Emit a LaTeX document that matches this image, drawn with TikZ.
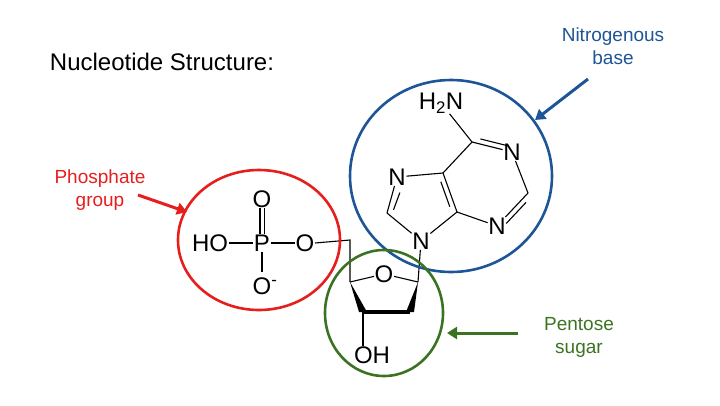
\documentclass[tikz,border=0pt]{standalone}
\usepackage{fontspec}
\setmainfont{Liberation Sans}
\usetikzlibrary{calc,arrows.meta}
\definecolor{myred}{RGB}{230,30,30}
\definecolor{myblue}{RGB}{30,85,150}
\definecolor{mygreen}{RGB}{60,115,35}
\newcommand{\atomfont}{\fontsize{24}{25}\selectfont}
\begin{document}
\begin{tikzpicture}[x=1pt,y=-1pt,
  atom/.style={inner sep=0.5pt,align=center,font=\atomfont},
  bond/.style={line width=1.1pt},
  lbl/.style={font=\fontsize{19}{23}\selectfont,align=center},
  ring/.style={line width=2.6pt}]
\useasboundingbox (0,0) rectangle (720,405);
\newcommand{\dbl}[3]{\draw[bond] ($(#1)!.18!(#2)!5pt!#3:(#2)$) -- ($(#2)!.18!(#1)!5pt!-#3:(#1)$);}
\node[font=\fontsize{24}{26}\selectfont] (title) at (162,62) {Nucleotide Structure:};
% phosphate
\node[atom] (HO) at (210,243) {HO};
\node[atom] (P) at (262,243) {P};
\node[atom] (O5) at (305,243) {O};
\node[atom] (Otop) at (262,199) {O};
\node[atom] (Om) at (265,286) {O\textsuperscript{-}};
\draw[bond] (HO) -- (P);
\draw[bond] (P) -- (O5);
\draw[bond,double,double distance=3pt] (P) -- (Otop);
\draw[bond] (P) -- (262,272);
% sugar
\coordinate (C5p) at (350,240);
\coordinate (C4p) at (350,282);
\coordinate (C3p) at (363,312);
\coordinate (C2p) at (410,312);
\coordinate (C1p) at (418,282);
\node[atom] (O4) at (384,274) {O};
\node[atom] (OH) at (372,355) {OH};
\draw[bond] (O5.east) -- (C5p) -- (C4p);
\draw[bond] (C4p) -- (O4);
\draw[bond] (O4) -- (C1p);
\fill (C4p) -- ($(C3p)+(-4,0)$) -- ($(C3p)+(4,0)$) -- cycle;
\fill (C1p) -- ($(C2p)+(-4,0)$) -- ($(C2p)+(4,0)$) -- cycle;
\draw[line width=4.5pt] (C3p) -- (C2p);
\draw[bond] (C3p) -- (OH.north -| C3p);
% base
\node[atom] (N9) at (421,241) {N};
\node[atom] (N7) at (397,177) {N};
\node[atom] (N3) at (497,226) {N};
\node[atom] (N1) at (512,152) {N};
\node[atom] (NH2) at (441,103) {H\textsubscript{2}N};
\coordinate (C8) at (387,213);
\coordinate (C4) at (457,212);
\coordinate (C5) at (443,173);
\coordinate (C6) at (472,142);
\coordinate (C2) at (528,193);
\draw[bond] (N9) -- (C1p);
\draw[bond] (N9) -- (C8);
\draw[bond] (N7) -- (C8);
\dbl{C8}{N7.south}{-90}
\draw[bond] (N7) -- (C5);
\draw[bond] (C5) -- (C4);
\dbl{C4}{C5}{90}
\draw[bond] (C4) -- (N9);
\draw[bond] (C4) -- (N3);
\draw[bond] (N3) -- (C2);
\dbl{C2}{N3}{90}
\draw[bond] (C2) -- (N1);
\draw[bond] (N1) -- (C6);
\dbl{C6}{N1}{90}
\draw[bond] (C6) -- (C5);
\draw[bond] (C6) -- (NH2);
% circles
\draw[ring,myred] (259,240) ellipse [x radius=81,y radius=70];
\draw[ring,myblue] (451,176) ellipse [x radius=101,y radius=96];
\draw[ring,mygreen] (384,313) ellipse [x radius=59,y radius=63];
% labels and arrows
\node[lbl,text=myred] (lp) at (100,190) {Phosphate\\group};
\node[lbl,text=myblue] (lb) at (613,46) {Nitrogenous\\base};
\node[lbl,text=mygreen] (ls) at (579,337) {Pentose\\sugar};
\coordinate (ar) at (187,212);
\coordinate (ab) at (535,120);
\coordinate (ag) at (447,333);
\draw[myred,line width=3pt,-{Triangle[length=10pt,width=12pt]}] (138,195) -- (ar);
\draw[myblue,line width=3pt,-{Triangle[length=10pt,width=12pt]}] (588,79) -- (ab);
\draw[mygreen,line width=3pt,-{Triangle[length=10pt,width=12pt]}] (518,333) -- (ag);
\end{tikzpicture}
\end{document}
